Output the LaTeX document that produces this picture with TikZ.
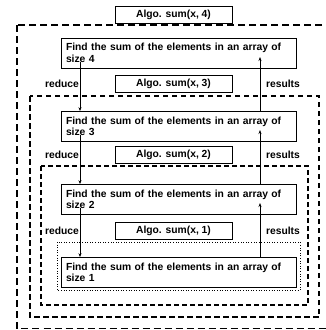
\documentclass[tikz,border=0pt]{standalone}
\usepackage{fontspec}
\setmainfont{Liberation Sans}
\usetikzlibrary{arrows.meta}
\begin{document}
\begin{tikzpicture}[x=1pt,y=-1pt,
  font=\fontsize{10.3}{11.5}\selectfont\bfseries,
  bigbox/.style={draw,fill=white,line width=0.7pt,minimum width=235pt,minimum height=30pt,
    text width=225pt,align=left,inner xsep=5pt,inner ysep=0pt},
  algobox/.style={draw,fill=white,line width=0.7pt,minimum width=117pt,minimum height=17pt,inner sep=0pt},
  lbl/.style={inner sep=0pt},
  flow/.style={line width=0.8pt,-{Stealth[length=4pt,width=3pt]}},
  frameA/.style={line width=1.7pt,dash pattern=on 7pt off 4pt},
  frameB/.style={line width=1.2pt,dash pattern=on 5.5pt off 3.5pt},
  frameC/.style={line width=1.1pt,dash pattern=on 5pt off 3pt},
  frameD/.style={line width=0.6pt,dotted}]
\useasboundingbox (0,0) rectangle (326,330);
\clip (0,0) rectangle (326,330);
% frames
\draw[frameA] (17,25) rectangle (328,328.5);
\draw[frameB] (30,96) rectangle (319,317);
\draw[frameC] (41,166) rectangle (308,305);
\draw[frameD] (57,242) rectangle (300,290);
% algo boxes
\node[algobox] (a4) at (173.5,14.5) {Algo. sum(x, 4)};
\node[algobox] (a3) at (173.5,84) {Algo. sum(x, 3)};
\node[algobox] (a2) at (173.5,154.5) {Algo. sum(x, 2)};
\node[algobox] (a1) at (173.5,230.5) {Algo. sum(x, 1)};
% problem boxes
\node[bigbox] (b4) at (178.5,53) {Find the sum of the elements in an array of\\size 4};
\node[bigbox] (b3) at (178.5,126.5) {Find the sum of the elements in an array of\\size 3};
\node[bigbox] (b2) at (178.5,199.5) {Find the sum of the elements in an array of\\size 2};
\node[bigbox] (b1) at (178.5,272.5) {Find the sum of the elements in an array of\\size 1};
% labels
\node[lbl] (r3) at (62,84) {reduce};
\node[lbl] (s3) at (283,84) {results};
\node[lbl] (r2) at (62,154.5) {reduce};
\node[lbl] (s2) at (283,154.5) {results};
\node[lbl] (r1) at (62,230.5) {reduce};
\node[lbl] (s1) at (283,230.5) {results};
% arrow ends
\coordinate (d4) at (80,62);
\coordinate (d3) at (80,135);
\coordinate (d2) at (80,208);
\coordinate (u4) at (260,57);
\coordinate (u3) at (260,130);
\coordinate (u2) at (260,203);
\draw[flow] (d4) -- (d4 |- b3.north);
\draw[flow] (d3) -- (d3 |- b2.north);
\draw[flow] (d2) -- (d2 |- b1.north);
\draw[flow] (u4 |- b3.north) -- (u4);
\draw[flow] (u3 |- b2.north) -- (u3);
\draw[flow] (u2 |- b1.north) -- (u2);
\end{tikzpicture}
\end{document}
